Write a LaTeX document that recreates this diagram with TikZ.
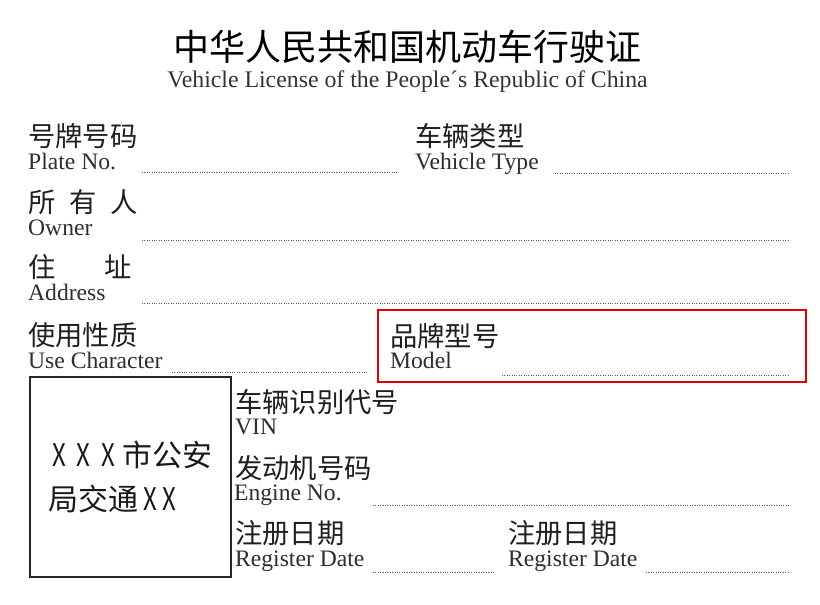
\documentclass[tikz,border=0pt]{standalone}
\usepackage{fontspec}
\setmainfont{Liberation Serif}
\newfontfamily\cjk{Noto Sans CJK SC}
\newcommand{\thinX}{\scalebox{0.8}[1.04]{X}}
\begin{document}
\begin{tikzpicture}[x=1pt,y=-1pt,
  cn/.style={anchor=base west, inner sep=0pt, font=\cjk\fontsize{27.3}{27.3}\selectfont, text=black!88},
  en/.style={anchor=base west, inner sep=0pt, font=\fontsize{23.6}{23.6}\selectfont, text=black!82},
  stamptext/.style={anchor=base west, inner sep=0pt, font=\cjk\fontsize{30}{30}\selectfont, text=black!90},
  dotline/.style={draw=black!65, line width=0.9pt, dash pattern=on 0.8pt off 1.6pt},
  frame/.style={draw=black!85, line width=1.8pt},
  redframe/.style={draw=red!90!black, line width=1.8pt}]
\fill[white] (0,0) rectangle (820,605);
\useasboundingbox (0,0) rectangle (820,605);
% title
\node[anchor=base, inner sep=0pt, font=\cjk\fontsize{36}{36}\selectfont, text=black] (title) at (407.5,60.5) {中华人民共和国机动车行驶证};
\node[anchor=base, inner sep=0pt, font=\fontsize{23.8}{23.8}\selectfont, text=black!80] (subtitle) at (407.5,87) {Vehicle License of the People´s Republic of China};
% row 1
\node[cn] (platecn) at (28,146) {号牌号码};
\node[en] (plateen) at (28,169) {Plate No.};
\node[cn] (typecn) at (415,146) {车辆类型};
\node[en] (typeen) at (415,169) {Vehicle Type};
\coordinate (d1a) at (142,172); \coordinate (d1b) at (398,172);
\coordinate (d2a) at (555,173); \coordinate (d2b) at (790,173);
\draw[dotline] (d1a) -- (d1b);
\draw[dotline] (d2a) -- (d2b);
% owner
\node[cn] (ownercn) at (28,212) {所\kern14pt 有\kern14pt 人};
\node[en] (owneren) at (28,235) {Owner};
\coordinate (d3a) at (142,240); \coordinate (d3b) at (790,240);
\draw[dotline] (d3a) -- (d3b);
% address
\node[cn] (addrcn) at (28,277) {住\kern49pt 址};
\node[en] (addren) at (28,300) {Address};
\coordinate (d4a) at (142,303); \coordinate (d4b) at (790,303);
\draw[dotline] (d4a) -- (d4b);
% use character
\node[cn] (usecn) at (28,345) {使用性质};
\node[en] (useen) at (28,368) {Use Character};
\coordinate (d5a) at (172,372); \coordinate (d5b) at (368,372);
\draw[dotline] (d5a) -- (d5b);
% model (red box)
\node[cn] (modelcn) at (390,346) {品牌型号};
\node[en] (modelen) at (390,368) {Model};
\coordinate (d6a) at (502,375); \coordinate (d6b) at (789,375);
\draw[dotline] (d6a) -- (d6b);
\coordinate (r1) at (378,310); \coordinate (r2) at (806,382);
\draw[redframe] (r1) rectangle (r2);
% stamp box
\coordinate (b1) at (30,377); \coordinate (b2) at (231,577);
\draw[frame] (b1) rectangle (b2);
\node[stamptext] (stamp1) at (52,466) {\thinX\kern11pt\thinX\kern11pt\thinX\kern7pt 市公安};
\node[stamptext] (stamp2) at (48,510) {局交通\kern5pt\thinX\kern6pt\thinX};
% VIN
\node[cn] (vincn) at (235,412) {车辆识别代号};
\node[en] (vinen) at (235,434) {VIN};
% engine
\node[cn] (engcn) at (235,478) {发动机号码};
\node[en] (engen) at (234,500) {Engine No.};
\coordinate (d7a) at (373,505); \coordinate (d7b) at (790,505);
\draw[dotline] (d7a) -- (d7b);
% register dates
\node[cn] (reg1cn) at (235,543) {注册日期};
\node[en] (reg1en) at (235,566) {Register Date};
\coordinate (d8a) at (373,572); \coordinate (d8b) at (495,572);
\draw[dotline] (d8a) -- (d8b);
\node[cn] (reg2cn) at (508,543) {注册日期};
\node[en] (reg2en) at (508,566) {Register Date};
\coordinate (d9a) at (646,572); \coordinate (d9b) at (790,572);
\draw[dotline] (d9a) -- (d9b);
\end{tikzpicture}
\end{document}
